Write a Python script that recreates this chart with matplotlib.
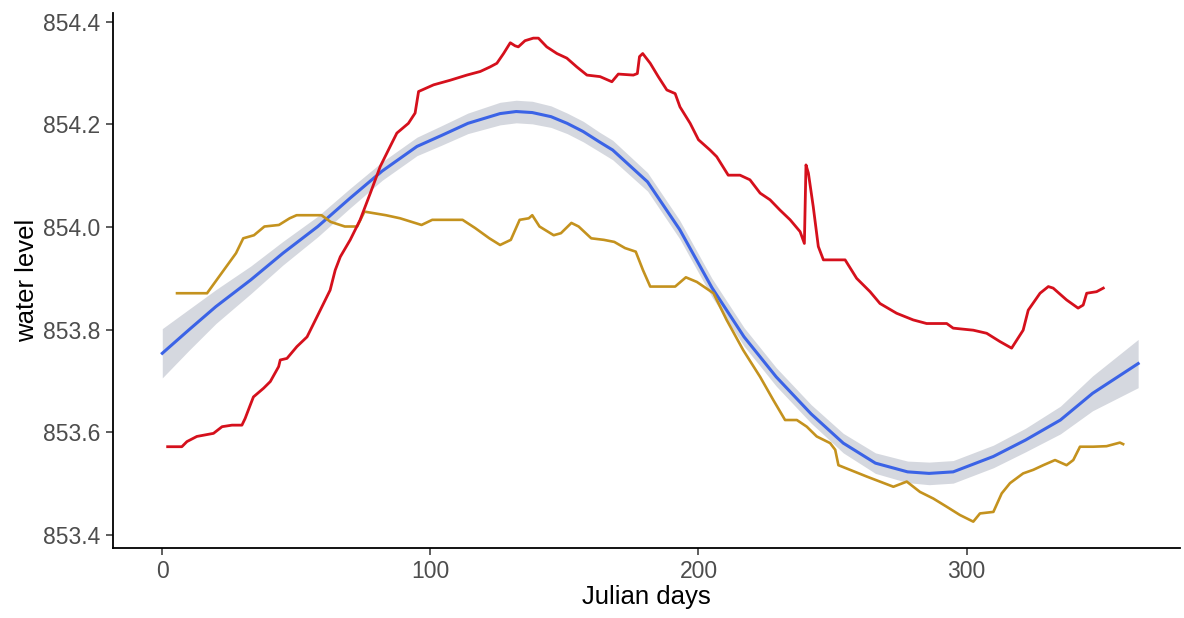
import matplotlib
matplotlib.use("Agg")
import matplotlib.pyplot as plt
import numpy as np

# well 1 (red) - daily water level, read as (julian day, level)
red_days = [2, 7.3, 9.2, 12.9, 16.0, 19.1, 22.3, 26.0, 29.7, 30.9, 32.8, 34.0, 37.8, 40.3,
            43.4, 44.0, 46.5, 50.2, 54.0, 57.7, 62.6, 64.5, 66.4, 70.1, 73.8, 77.6, 81.3,
            85.0, 87.5, 91.8, 94.3, 95.6, 101.2, 107.4, 113.6, 118.6, 122.3, 124.8, 127.3,
            129.8, 131.6, 132.8, 135.3, 138.4, 140.3, 143.4, 147.2, 150.9, 154.6, 158.4,
            163.3, 167.7, 170.1, 175.7, 177.2, 178.0, 179.2, 182.0, 185.0, 188.2, 191.3,
            193.1, 196.9, 200.0, 204.3, 206.8, 211.1, 215.5, 219.2, 223.0, 226.7, 230.4,
            234.2, 237.9, 239.5, 240.1, 241.0, 242.8, 244.7, 246.6, 254.7, 259.0, 264.0,
            267.7, 273.9, 280.1, 285.1, 292.6, 295.0, 302.5, 307.5, 312.4, 316.8, 321.1,
            323.0, 327.4, 330.5, 332.3, 337.3, 341.6, 343.5, 344.8, 348.5, 351.0]
red_level = [853.572, 853.572, 853.582, 853.592, 853.595, 853.598, 853.611, 853.614, 853.614,
             853.627, 853.653, 853.669, 853.686, 853.699, 853.728, 853.741, 853.744, 853.767,
             853.786, 853.825, 853.877, 853.916, 853.942, 853.975, 854.014, 854.066, 854.118,
             854.157, 854.183, 854.202, 854.222, 854.264, 854.277, 854.286, 854.296, 854.303,
             854.312, 854.319, 854.338, 854.359, 854.353, 854.351, 854.363, 854.368, 854.368,
             854.351, 854.338, 854.329, 854.312, 854.296, 854.293, 854.283, 854.298, 854.296,
             854.299, 854.332, 854.338, 854.319, 854.293, 854.267, 854.260, 854.234, 854.202,
             854.170, 854.150, 854.137, 854.101, 854.101, 854.092, 854.066, 854.053, 854.033,
             854.014, 853.991, 853.968, 854.121, 854.105, 854.040, 853.962, 853.936, 853.936,
             853.900, 853.874, 853.851, 853.832, 853.819, 853.812, 853.812, 853.803, 853.799,
             853.793, 853.777, 853.764, 853.799, 853.838, 853.871, 853.884, 853.881, 853.858,
             853.842, 853.848, 853.871, 853.874, 853.881]

# well 2 (gold)
gold_days = [5.5, 16.7, 22.1, 27.5, 30.2, 34.2, 38.1, 43.5, 47.5, 50.1, 59.4, 62.8, 68.1,
             72.7, 75.4, 83.4, 88.7, 96.7, 100.7, 112.0, 116.7, 122.0, 126.0, 130.0, 133.3,
             136.7, 138.0, 140.7, 146.0, 148.7, 152.6, 155.3, 160.0, 164.7, 168.6, 172.6,
             176.6, 179.3, 182.0, 191.3, 195.3, 199.4, 205.6, 210.5, 216.7, 223.0, 227.9,
             232.3, 236.7, 240.4, 244.1, 249.1, 251.0, 252.2, 256.5, 262.7, 267.7, 272.7,
             277.7, 282.6, 287.6, 292.6, 297.5, 302.5, 305.0, 310.0, 313.1, 316.2, 321.1,
             324.9, 328.6, 333.0, 337.3, 339.8, 342.3, 347.2, 352.2, 357.2, 358.4]
gold_level = [853.871, 853.871, 853.910, 853.949, 853.978, 853.984, 854.001, 854.004, 854.017,
              854.023, 854.023, 854.010, 854.001, 854.001, 854.030, 854.023, 854.017, 854.004,
              854.014, 854.014, 853.998, 853.978, 853.965, 853.975, 854.014, 854.017, 854.023,
              854.001, 853.984, 853.988, 854.008, 854.001, 853.978, 853.975, 853.971, 853.959,
              853.952, 853.916, 853.884, 853.884, 853.902, 853.893, 853.871, 853.819, 853.760,
              853.708, 853.663, 853.624, 853.624, 853.611, 853.592, 853.579, 853.566, 853.536,
              853.527, 853.514, 853.504, 853.494, 853.504, 853.484, 853.471, 853.455, 853.439,
              853.426, 853.442, 853.445, 853.481, 853.501, 853.520, 853.527, 853.536, 853.546,
              853.536, 853.546, 853.572, 853.572, 853.573, 853.580, 853.577]

# loess fit of both wells and its confidence half-width
fit_days = [0, 10, 20, 33, 45, 58, 70, 82, 95, 104, 114, 126, 132, 138, 145, 151, 157, 163,
            168, 181, 193, 205, 217, 229, 242, 254, 266, 278, 286, 295, 310, 322, 335, 347, 364]
fit_level = [853.754, 853.800, 853.845, 853.897, 853.949, 854.001, 854.056, 854.109, 854.157,
             854.178, 854.202, 854.221, 854.225, 854.223, 854.215, 854.202, 854.186, 854.166,
             854.150, 854.088, 853.995, 853.882, 853.786, 853.708, 853.636, 853.579, 853.540,
             853.523, 853.520, 853.523, 853.553, 853.585, 853.624, 853.676, 853.734]
fit_se = [0.048, 0.040, 0.033, 0.027, 0.023, 0.020, 0.019, 0.018, 0.018, 0.019, 0.020, 0.022,
          0.022, 0.022, 0.021, 0.020, 0.020, 0.019, 0.019, 0.018, 0.018, 0.018, 0.018, 0.018,
          0.018, 0.019, 0.020, 0.021, 0.022, 0.022, 0.022, 0.023, 0.027, 0.034, 0.047]

plt.rcParams['font.family'] = ['Liberation Sans', 'DejaVu Sans']

fig = plt.figure(figsize=(11.84, 6.18), dpi=100)
ax = fig.add_axes([0.0954, 0.1133, 0.9012, 0.8657])

lo = np.array(fit_level) - np.array(fit_se)
hi = np.array(fit_level) + np.array(fit_se)
ax.fill_between(fit_days, lo, hi, color='#a3a9b8', alpha=0.45, lw=0)
ax.plot(fit_days, fit_level, color='#3b63e6', lw=2.2, solid_joinstyle='round')

ax.plot(gold_days, gold_level, color='#c4921e', lw=1.9)
ax.plot(red_days, red_level, color='#d5101c', lw=2.0)

ax.set_xlim(-18.4, 379.6)
ax.set_ylim(853.3747, 854.417)
ax.set_xticks([0, 100, 200, 300])
ax.set_yticks([853.4, 853.6, 853.8, 854.0, 854.2, 854.4])
ax.set_yticklabels(['853.4', '853.6', '853.8', '854.0', '854.2', '854.4'])

for s in ['top', 'right']:
    ax.spines[s].set_visible(False)
for s in ['left', 'bottom']:
    ax.spines[s].set_linewidth(1.3)
    ax.spines[s].set_color('black')

ax.tick_params(axis='both', colors='#333333', labelcolor='#4d4d4d', labelsize=16.5,
               length=5, width=1.1, pad=4)

ax.set_xlabel('Julian days', fontsize=18.5, color='black', labelpad=1)
ax.set_ylabel('water level', fontsize=18.5, color='black', labelpad=3)

fig.savefig('out.png', dpi=100)
